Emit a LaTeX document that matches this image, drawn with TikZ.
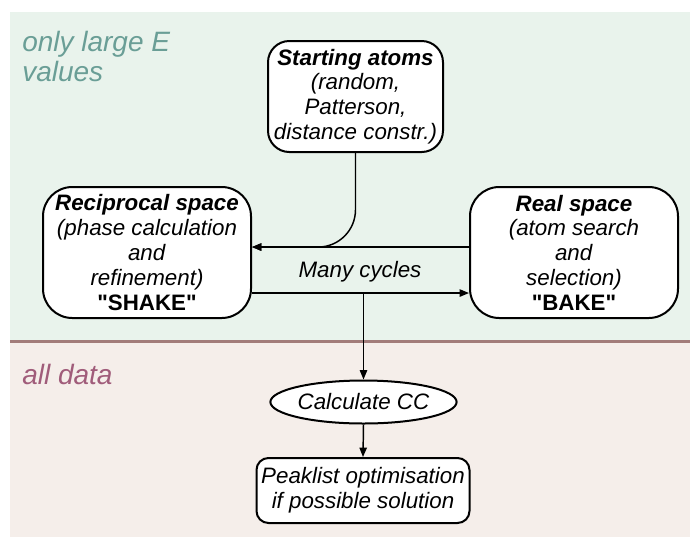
\documentclass[tikz,border=0pt]{standalone}
\usepackage{fontspec}
\setmainfont{Liberation Sans}[Ligatures=TeXOff]
\usetikzlibrary{arrows.meta,shapes.geometric}
\definecolor{bggreen}{HTML}{E9F3EC}
\definecolor{bgpink}{HTML}{F5EEEA}
\definecolor{divline}{HTML}{A27C7A}
\definecolor{tealtxt}{HTML}{6A9E96}
\definecolor{mauvetxt}{HTML}{A05C7A}
\begin{document}
\begin{tikzpicture}[x=0.75pt,y=-0.75pt,
  box/.style={draw, line width=1.5pt, fill=white, align=center, inner sep=0pt,
    font=\fontsize{16.75}{18.6}\selectfont},
  arr/.style={-{Triangle[length=7pt,width=5.5pt]}, line width=1.1pt},
  zone/.style={inner sep=0pt, font=\fontsize{21}{22.8}\selectfont\itshape}]
\useasboundingbox (0,0) rectangle (690,537);
% backgrounds
\fill[bggreen] (10,12) rectangle (690,341);
\fill[bgpink] (10,341) rectangle (690,537);
\draw[divline, line width=2.25pt] (10,341.5) -- (690,341.5);
% zone labels
\node[zone, text=tealtxt, anchor=north west, align=left] (lblE) at (22,31) {only large E\\values};
\node[zone, text=mauvetxt, anchor=base west] (lblall) at (22,384) {all data};
% nodes
\node[box, rounded corners=16pt, minimum width=131.25pt, minimum height=83.25pt] (start) at (355.5,96.5)
  {\textbf{\textit{Starting atoms}}\\\textit{(random,}\\\textit{Patterson,}\\\textit{distance constr.)}};
\node[box, rounded corners=22pt, minimum width=156pt, minimum height=98.25pt] (recip) at (147,252.5)
  {\textbf{\textit{Reciprocal space}}\\\textit{(phase calculation}\\\textit{and}\\\textit{refinement)}\\\textbf{"SHAKE"}};
\node[box, rounded corners=22pt, minimum width=156pt, minimum height=98.25pt] (real) at (574,252.5)
  {\textbf{\textit{Real space}}\\\textit{(atom search}\\\textit{and}\\\textit{selection)}\\\textbf{"BAKE"}};
\node[box, ellipse, minimum width=138pt, minimum height=32.25pt] (calc) at (363.5,402)
  {\textit{Calculate CC}};
\node[box, rounded corners=9pt, minimum width=159.75pt, minimum height=48.75pt] (peak) at (363,490.5)
  {\textit{Peaklist optimisation}\\\textit{if possible solution}};
\node[inner sep=0pt, font=\fontsize{16.75}{18.6}\selectfont\itshape] (cycles) at (360,272) {Many cycles};
% connectors
\draw[arr] ([yshift=4.1pt]real.west) -- ([yshift=4.1pt]recip.east);
\draw[arr, rounded corners=28pt] (start.south) |- ([yshift=4.1pt]recip.east);
\draw[arr] ([yshift=-30.4pt]recip.east) coordinate (lowL) -- ([yshift=-30.4pt]real.west);
\coordinate (split) at (calc.north |- lowL);
\draw[arr] (split) -- (calc.north);
\draw[arr] (calc.south) -- (peak.north);
\end{tikzpicture}
\end{document}
